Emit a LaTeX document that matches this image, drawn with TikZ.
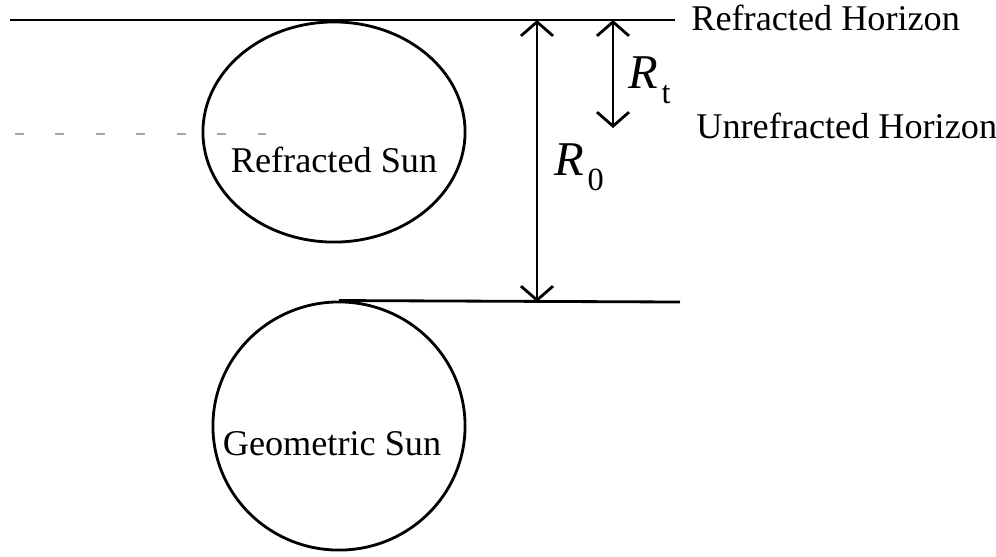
\documentclass[tikz,border=0pt]{standalone}
\usepackage{fontspec}
\setmainfont{Liberation Serif}
\usetikzlibrary{positioning,arrows.meta,shapes.geometric}
\newcommand{\radsub}[2]{\textit{#1}\kern1pt\raisebox{-4.3pt}{\fontsize{9.2}{10}\selectfont #2}}

\begin{document}
\begin{tikzpicture}[x=0.01cm,y=-0.01cm,line width=0.8pt,
  sun/.style={draw,ellipse,inner sep=0pt},
  txt/.style={font=\fontsize{10.3}{12}\selectfont,inner sep=0pt},
  radlbl/.style={font=\fontsize{13.8}{15}\selectfont,inner sep=0pt},
  dimarrow/.style={{Straight Barb[length=1.4mm,width=3.2mm]}-{Straight Barb[length=1.4mm,width=3.2mm]}}]
\useasboundingbox (0,0) rectangle (996,556);
% suns
\node[sun,minimum width=2.62cm,minimum height=2.2cm] (refsun) at (334,132) {};
\node[sun,minimum width=2.52cm,minimum height=2.48cm] (geosun) at (339,426) {};
\node[txt,anchor=base] (refsuntxt) at (334,172) {Refracted Sun};
\node[txt,anchor=base] (geosuntxt) at (332,455) {Geometric Sun};
% horizons
\coordinate (refL) at (10,20);
\coordinate (refR) at (675,20);
\coordinate (geoR) at (680,302);
\coordinate (unrefL) at (15,134);
\coordinate (unrefR) at (282,134);
\draw (refL) -- (refR);
\draw (geosun.north) -- (geoR);
\draw[gray!70,line width=0.45pt,dash pattern=on 2.5pt off 9pt] (unrefL) -- (unrefR);
\node[txt,anchor=base west] (refhor) at (690,30) {Refracted Horizon};
\node[txt,anchor=base west] (unrefhor) at (695,138) {Unrefracted Horizon};
% refraction arrows
\coordinate (r0top) at (537,20);
\coordinate (r0bot) at (537,302);
\coordinate (rttop) at (613,20);
\coordinate (rtbot) at (613,128);
\draw[dimarrow] (r0top) -- (r0bot);
\draw[dimarrow] (rttop) -- (rtbot);
\node[radlbl,anchor=base west] (rtlbl) at (627,88) {\radsub{R}{t}};
\node[radlbl,anchor=base west] (r0lbl) at (553,175) {\radsub{R}{0}};
\end{tikzpicture}
\end{document}
